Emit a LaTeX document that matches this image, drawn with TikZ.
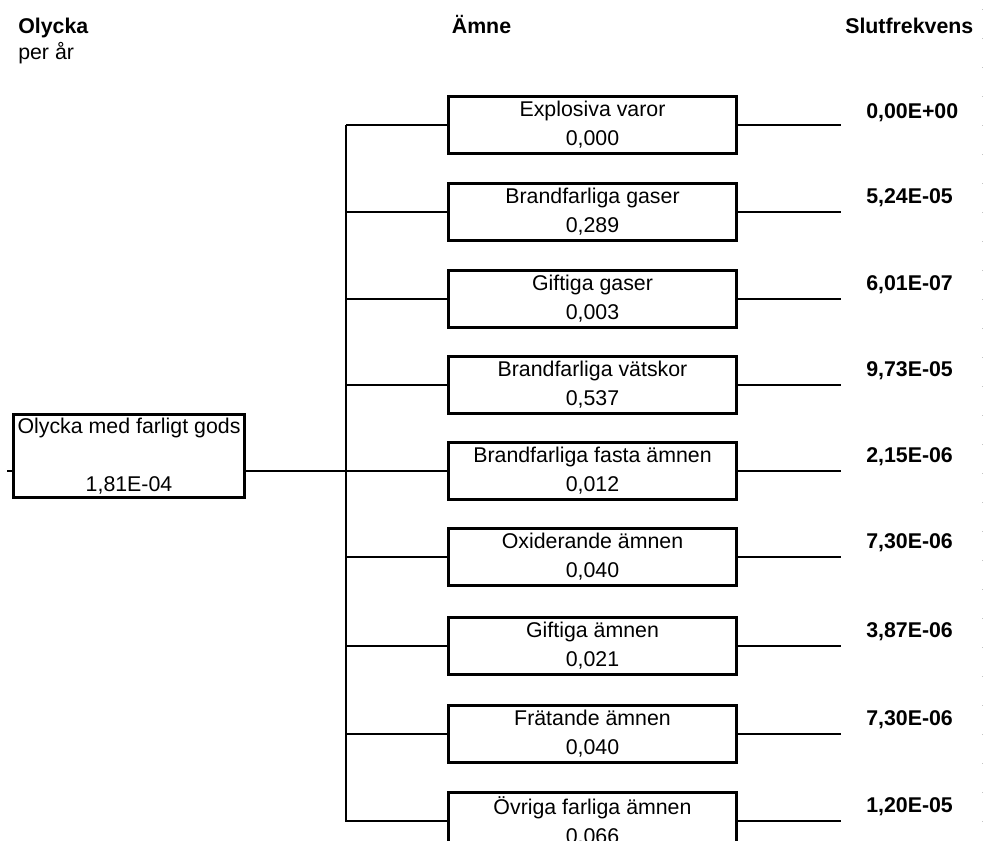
\documentclass[tikz,border=0pt]{standalone}
\usepackage{fontspec}
\setmainfont{Liberation Sans}
\usetikzlibrary{positioning,calc}
\definecolor{lineK}{HTML}{000000}
\definecolor{gridG}{HTML}{C4C4C4}
\newcommand{\treeFont}{\fontsize{16pt}{21.75pt}\selectfont}
\tikzset{
  treeLine/.style={draw=lineK,line width=2.2pt},
  rootBox/.style={draw=lineK,line width=2.2pt,rectangle,align=center,inner sep=1pt,
    font=\treeFont,minimum width=173.4pt,minimum height=62.4pt},
  subBox/.style={draw=lineK,line width=2.2pt,rectangle,align=center,inner sep=1pt,
    font=\treeFont,minimum width=216.5pt,minimum height=42.5pt,
    execute at begin node={\rule{0pt}{17pt}}},
  freqVal/.style={inner sep=0pt,anchor=base west,font=\treeFont\bfseries},
  headText/.style={inner sep=0pt,font=\treeFont\bfseries},
}

\begin{document}
\begin{tikzpicture}[x=0.75pt,y=-0.75pt]
\useasboundingbox (0,0) rectangle (984,840);
\clip (0,0) rectangle (984,840);
% column heads
\node[headText,anchor=base west] (hOlycka) at (18,33) {Olycka};
\node[inner sep=0pt,anchor=base west,font=\treeFont] (hPerAr) at (18,59) {per år};
\node[headText,anchor=base] (hAmne) at (481.5,33) {Ämne};
\node[headText,anchor=base west] (hSlut) at (845,33) {Slutfrekvens};
% root event
\node[rootBox] (root) at (129,456) {Olycka med farligt gods\\[21.5pt]1,81E-04};
\coordinate (hub) at (346,471);
\coordinate (stub) at (7,471);
\coordinate (endR) at (841,0);
% substance boxes
\node[subBox] (explosiv) at (592.5,125) {Explosiva varor\\0,000};
\node[subBox] (brandGas) at (592.5,212) {Brandfarliga gaser\\0,289};
\node[subBox] (giftGas) at (592.5,299) {Giftiga gaser\\0,003};
\node[subBox] (brandVats) at (592.5,385) {Brandfarliga vätskor\\0,537};
\node[subBox] (brandFast) at (592.5,471) {Brandfarliga fasta ämnen\\0,012};
\node[subBox] (oxid) at (592.5,557) {Oxiderande ämnen\\0,040};
\node[subBox] (giftAmne) at (592.5,646) {Giftiga ämnen\\0,021};
\node[subBox] (fratande) at (592.5,734) {Frätande ämnen\\0,040};
\node[subBox] (ovriga) at (592.5,821) {Övriga farliga ämnen\\0,066};
% end frequencies
\node[freqVal] (fExplosiv) at (866,118.5) {0,00E+00};
\node[freqVal] (fBrandGas) at (866,203.5) {5,24E-05};
\node[freqVal] (fGiftGas) at (866,290.5) {6,01E-07};
\node[freqVal] (fBrandVats) at (866,376.5) {9,73E-05};
\node[freqVal] (fBrandFast) at (866,462.5) {2,15E-06};
\node[freqVal] (fOxid) at (866,548.5) {7,30E-06};
\node[freqVal] (fGiftAmne) at (866,637.5) {3,87E-06};
\node[freqVal] (fFratande) at (866,725.5) {7,30E-06};
\node[freqVal] (fOvriga) at (866,812.5) {1,20E-05};
% tree lines
\draw[treeLine] (stub) -- (stub -| root.west);
\draw[treeLine] (root.east |- hub) -- (hub);
\draw[treeLine] (hub |- explosiv.west) -- (explosiv.west);
\draw[treeLine] (hub |- explosiv.west) -- (hub |- ovriga.west) -- (ovriga.west);
\draw[treeLine] (hub |- brandGas.west) -- (brandGas.west);
\draw[treeLine] (hub |- giftGas.west) -- (giftGas.west);
\draw[treeLine] (hub |- brandVats.west) -- (brandVats.west);
\draw[treeLine] (hub |- brandFast.west) -- (brandFast.west);
\draw[treeLine] (hub |- oxid.west) -- (oxid.west);
\draw[treeLine] (hub |- giftAmne.west) -- (giftAmne.west);
\draw[treeLine] (hub |- fratande.west) -- (fratande.west);
\draw[treeLine] (explosiv.east) -- (explosiv.east -| endR);
\draw[treeLine] (brandGas.east) -- (brandGas.east -| endR);
\draw[treeLine] (giftGas.east) -- (giftGas.east -| endR);
\draw[treeLine] (brandVats.east) -- (brandVats.east -| endR);
\draw[treeLine] (brandFast.east) -- (brandFast.east -| endR);
\draw[treeLine] (oxid.east) -- (oxid.east -| endR);
\draw[treeLine] (giftAmne.east) -- (giftAmne.east -| endR);
\draw[treeLine] (fratande.east) -- (fratande.east -| endR);
\draw[treeLine] (ovriga.east) -- (ovriga.east -| endR);
% faint sheet grid at the right edge
\draw[gridG,line width=0.75pt,dash pattern=on 1.1pt off 20.65pt] (982,9) -- (982,840);
\end{tikzpicture}
\end{document}
